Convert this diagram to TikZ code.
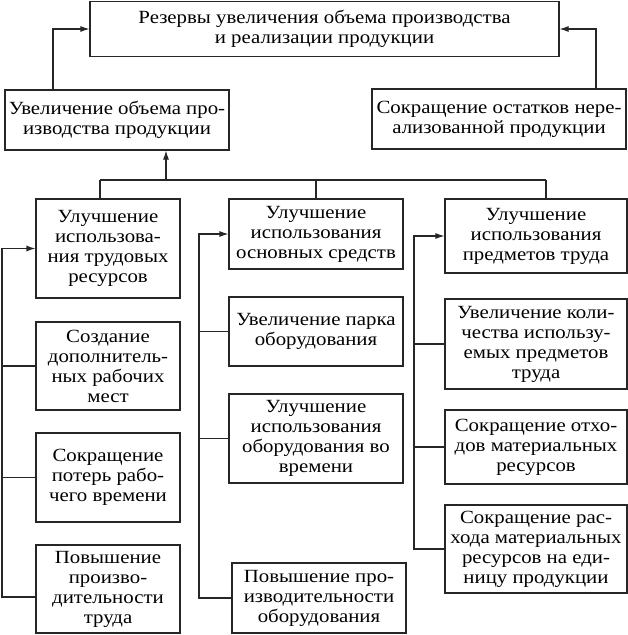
\documentclass[tikz,border=0pt]{standalone}
\usepackage{fontspec}
\setmainfont[FakeStretch=1.12]{Liberation Serif}
\usetikzlibrary{positioning,calc,arrows.meta}

\tikzset{
  box/.style={draw=black!85, line width=1.1pt, align=center, inner sep=2pt,
    font=\fontsize{18.6}{20}\selectfont},
  link/.style={draw=black!85, line width=1.1pt},
  arr/.style={link, -{Latex[length=9pt,width=6pt]}}
}

\begin{document}
\begin{tikzpicture}[x=1pt,y=-1pt]
\useasboundingbox (0,0) rectangle (628,635);

% top level
\node[box, minimum width=469, minimum height=55] (top) at (324.5,29)
  {Резервы увеличения объема производства\\и реализации продукции};
\node[box, minimum width=224, minimum height=60] (vol) at (117,120)
  {Увеличение объема про-\\изводства продукции};
\node[box, minimum width=254, minimum height=60] (rest) at (499,119)
  {Сокращение остатков нере-\\ализованной продукции};

% left column
\node[box, minimum width=144, minimum height=99] (L1) at (108,248.5)
  {Улучшение\\использова-\\ния трудовых\\ресурсов};
\node[box, minimum width=144, minimum height=88] (L2) at (108,366)
  {Создание\\дополнитель-\\ных рабочих\\мест};
\node[box, minimum width=144, minimum height=89] (L3) at (108,477.5)
  {Сокращение\\потерь рабо-\\чего времени};
\node[box, minimum width=144, minimum height=88] (L4) at (108,589)
  {Повышение\\произво-\\дительности\\труда};

% middle column
\node[box, minimum width=174, minimum height=70] (M1) at (316,234)
  {Улучшение\\использования\\основных средств};
\node[box, minimum width=174, minimum height=69] (M2) at (316,331.5)
  {Увеличение парка\\оборудования};
\node[box, minimum width=174, minimum height=89] (M3) at (316,438.5)
  {Улучшение\\использования\\оборудования во\\времени};
\node[box, minimum width=174, minimum height=70] (M4) at (319,598)
  {Повышение про-\\изводительности\\оборудования};

% right column
\node[box, minimum width=182, minimum height=74] (R1) at (536,236)
  {Улучшение\\использования\\предметов труда};
\node[box, minimum width=182, minimum height=90] (R2) at (536,344)
  {Увеличение коли-\\чества использу-\\емых предметов\\труда};
\node[box, minimum width=182, minimum height=74] (R3) at (536,447)
  {Сокращение отхо-\\дов материальных\\ресурсов};
\node[box, minimum width=182, minimum height=88] (R4) at (536,549)
  {Сокращение рас-\\хода материальных\\ресурсов на еди-\\ницу продукции};

% connectors to the top box
\coordinate (vup) at (53,90);
\coordinate (rup) at (596,89);
\draw[arr] (vup) |- (top.west);
\draw[arr] (rup) |- (top.east);

% tree below vol
\coordinate (up) at (166,180);
\coordinate (dl) at (100,180);
\coordinate (dm) at (316,180);
\coordinate (dr) at (546,180);
\draw[arr] (up) -- (up |- vol.south);
\draw[link] (dl) -- (dr);
\draw[link] (dl) -- (dl |- L1.north);
\draw[link] (dm) -- (dm |- M1.north);
\draw[link] (dr) -- (dr |- R1.north);

% side buses
\coordinate (lbus) at (2,0);
\coordinate (mbus) at (199,0);
\coordinate (rbus) at (414,0);
\draw[arr] ([yshift=-8pt]L4.west) -- ([yshift=-8pt]L4.west -| lbus) |- (L1.west);
\draw[arr] (M4.west) -- (M4.west -| mbus) |- (M1.west);
\draw[arr] (R4.west) -- (R4.west -| rbus) |- (R1.west);
\foreach \n in {L2,L3} \draw[link] (\n.west) -- (\n.west -| lbus);
\foreach \n in {M2,M3} \draw[link] (\n.west) -- (\n.west -| mbus);
\foreach \n in {R2,R3} \draw[link] (\n.west) -- (\n.west -| rbus);
\end{tikzpicture}
\end{document}
